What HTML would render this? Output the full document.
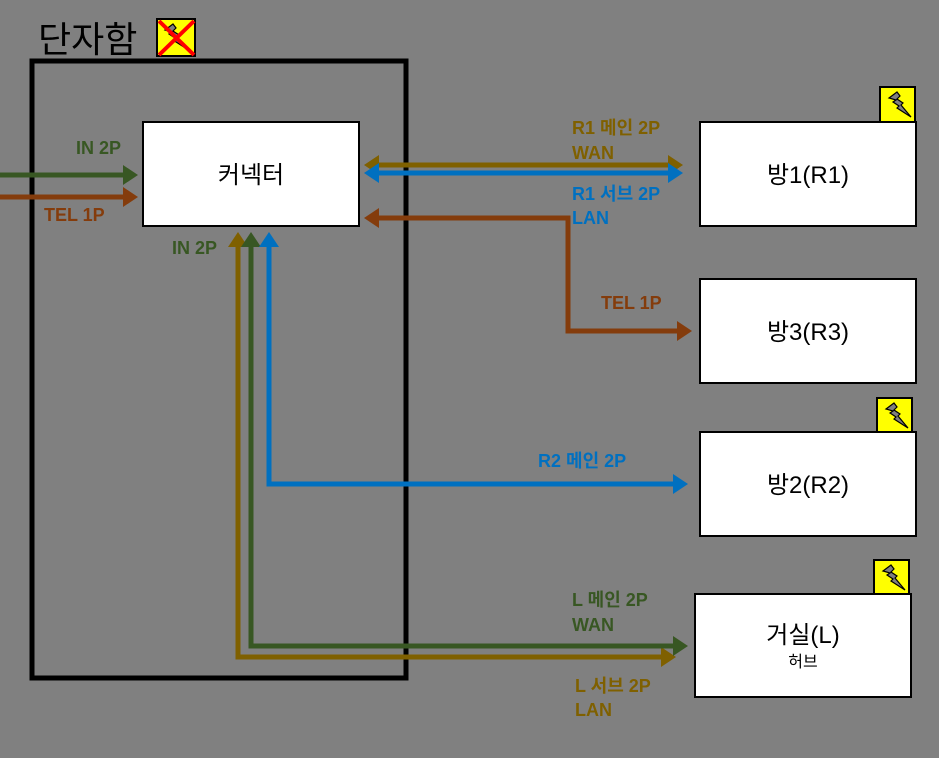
<!DOCTYPE html>
<html><head><meta charset="utf-8"><style>
body{margin:0;background:#808080;}
svg text{font-family:"Liberation Sans","Noto Sans CJK KR",sans-serif;}
.lb{font-weight:bold;font-size:18px;}
</style></head><body>
<svg width="939" height="753" xmlns="http://www.w3.org/2000/svg">
<defs>
<marker id="g" markerWidth="4" markerHeight="4" refX="2.2" refY="2" orient="auto-start-reverse" markerUnits="strokeWidth"><path d="M0,0L3,2L0,4z" fill="#385723"/></marker>
<marker id="o" markerWidth="4" markerHeight="4" refX="2.2" refY="2" orient="auto-start-reverse" markerUnits="strokeWidth"><path d="M0,0L3,2L0,4z" fill="#7f6000"/></marker>
<marker id="b" markerWidth="4" markerHeight="4" refX="2.2" refY="2" orient="auto-start-reverse" markerUnits="strokeWidth"><path d="M0,0L3,2L0,4z" fill="#0070c0"/></marker>
<marker id="r" markerWidth="4" markerHeight="4" refX="2.2" refY="2" orient="auto-start-reverse" markerUnits="strokeWidth"><path d="M0,0L3,2L0,4z" fill="#843c0c"/></marker>
<g id="bolt"><path d="M5,8 L13,2 L16,6 L13,9 L19,13 L17,15 L27,27 L13,18 L15,16 L9,12 L12,10 Z" fill="#808080" stroke="#000" stroke-width="1.2"/></g>
</defs>
<rect x="32" y="61" width="374" height="617" fill="none" stroke="#000" stroke-width="5"/>
<text x="38" y="52" font-size="36" fill="#000">단자함</text>
<rect x="157" y="19" width="38" height="37" fill="#ff0" stroke="#000" stroke-width="2"/>
<use href="#bolt" x="160" y="22"/>
<path d="M159,21L194,55M194,21L159,55" stroke="#f00" stroke-width="4"/>
<g fill="none" stroke-width="5">
<path d="M0,175H134" stroke="#385723" marker-end="url(#g)"/>
<path d="M0,197H134" stroke="#843c0c" marker-end="url(#r)"/>
<path d="M368,165H679" stroke="#7f6000" marker-end="url(#o)" marker-start="url(#o)"/>
<path d="M368,173H679" stroke="#0070c0" marker-end="url(#b)" marker-start="url(#b)"/>
<path d="M368,218H568V331H688" stroke="#843c0c" marker-end="url(#r)" marker-start="url(#r)"/>
<path d="M672,657H238V236" stroke="#7f6000" marker-end="url(#o)" marker-start="url(#o)"/>
<path d="M684,646H251V236" stroke="#385723" marker-end="url(#g)" marker-start="url(#g)"/>
<path d="M684,484H269V236" stroke="#0070c0" marker-end="url(#b)" marker-start="url(#b)"/>
</g>
<g stroke="#000" stroke-width="2" fill="#fff">
<rect x="143" y="122" width="216" height="104"/>
<rect x="700" y="122" width="216" height="104"/>
<rect x="700" y="279" width="216" height="104"/>
<rect x="700" y="432" width="216" height="104"/>
<rect x="695" y="594" width="216" height="103"/>
<rect x="880" y="87" width="35" height="35" fill="#ff0"/>
<rect x="877" y="398" width="35" height="34" fill="#ff0"/>
<rect x="874" y="560" width="35" height="34" fill="#ff0"/>
</g>
<use href="#bolt" x="884" y="90"/><use href="#bolt" x="881" y="401"/><use href="#bolt" x="878" y="563"/>
<g font-size="24" fill="#000" text-anchor="middle">
<text x="251" y="183">커넥터</text>
<text x="808" y="183">방1(R1)</text>
<text x="808" y="340">방3(R3)</text>
<text x="808" y="493">방2(R2)</text>
<text x="803" y="643">거실(L)</text>
<text x="803" y="667" font-size="16">허브</text>
</g>
<g class="lb">
<text x="76" y="154" fill="#385723" class="lb">IN 2P</text>
<text x="44" y="221" fill="#843c0c" class="lb">TEL 1P</text>
<text x="172" y="254" fill="#385723" class="lb">IN 2P</text>
<text x="572" y="134" fill="#7f6000" class="lb">R1 메인 2P</text>
<text x="572" y="159" fill="#7f6000" class="lb">WAN</text>
<text x="572" y="200" fill="#0070c0" class="lb">R1 서브 2P</text>
<text x="572" y="224" fill="#0070c0" class="lb">LAN</text>
<text x="601" y="309" fill="#843c0c" class="lb">TEL 1P</text>
<text x="538" y="467" fill="#0070c0" class="lb">R2 메인 2P</text>
<text x="572" y="606" fill="#385723" class="lb">L 메인 2P</text>
<text x="572" y="631" fill="#385723" class="lb">WAN</text>
<text x="575" y="692" fill="#7f6000" class="lb">L 서브 2P</text>
<text x="575" y="716" fill="#7f6000" class="lb">LAN</text>
</g>
</svg>
</body></html>
